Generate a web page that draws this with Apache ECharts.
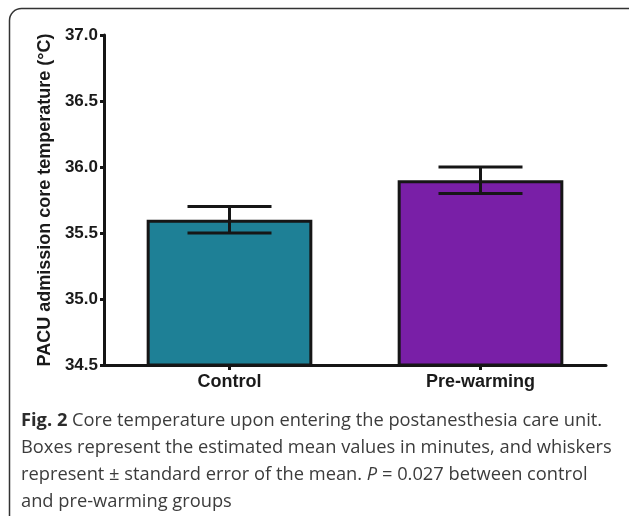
<!DOCTYPE html>
<html>
<head>
<meta charset="utf-8">
<script src="https://cdn.jsdelivr.net/npm/echarts@6/dist/echarts.min.js"></script>
<style>
  html, body { margin: 0; padding: 0; background: #fff; }
  #chart { width: 629px; height: 516px; }
</style>
</head>
<body>
<div id="chart"></div>
<script>
// data
const categories = ['Control', 'Pre-warming']
const meanTemp = [35.6, 35.9]
const semTemp = [0.1, 0.1]
const barColors = ['#1e8096', '#791fa7']
const yTicks = [34.5, 35.0, 35.5, 36.0, 36.5, 37.0]

const chart = echarts.init(document.getElementById('chart'))

const capHalf = 42
const ink = '#161616'

chart.setOption({
  animation: false,
  grid: { left: 104, right: 23, top: 35, bottom: 151 },
  xAxis: {
    type: 'category',
    data: categories,
    axisLine: { lineStyle: { color: ink, width: 3 } },
    axisTick: { show: true, alignWithLabel: true, length: 5, lineStyle: { color: ink, width: 3 } },
    axisLabel: { color: '#1a1a1a', fontFamily: 'Liberation Sans, Arial', fontWeight: 'bold', fontSize: 18, margin: 8 }
  },
  yAxis: {
    type: 'value',
    min: yTicks[0],
    max: yTicks[yTicks.length - 1],
    interval: 0.5,
    name: 'PACU admission core temperature (\u00b0C)',
    nameLocation: 'middle',
    nameGap: 47,
    nameTextStyle: { color: '#1a1a1a', fontFamily: 'Liberation Sans, Arial', fontWeight: 'bold', fontSize: 18 },
    splitLine: { show: false },
    axisLine: { show: true, lineStyle: { color: ink, width: 3 } },
    axisTick: { show: true, length: 4, lineStyle: { color: ink, width: 3 } },
    axisLabel: {
      color: '#1a1a1a',
      fontFamily: 'Liberation Sans, Arial',
      fontWeight: 'bold',
      fontSize: 17,
      margin: 6,
      formatter: v => v.toFixed(1)
    }
  },
  series: [
    {
      type: 'bar',
      barWidth: '66%',
      data: meanTemp.map((v, i) => ({
        value: v,
        itemStyle: { color: barColors[i], borderColor: ink, borderWidth: 3 }
      }))
    },
    {
      type: 'custom',
      z: 10,
      data: meanTemp.map((v, i) => [i, v - semTemp[i], v + semTemp[i]]),
      renderItem: (params, api) => {
        const lo = api.coord([api.value(0), api.value(1)])
        const hi = api.coord([api.value(0), api.value(2)])
        const style = { stroke: ink, lineWidth: 3 }
        return {
          type: 'group',
          children: [
            { type: 'line', shape: { x1: hi[0], y1: hi[1], x2: lo[0], y2: lo[1] }, style },
            { type: 'line', shape: { x1: hi[0] - capHalf, y1: hi[1], x2: hi[0] + capHalf, y2: hi[1] }, style },
            { type: 'line', shape: { x1: lo[0] - capHalf, y1: lo[1], x2: lo[0] + capHalf, y2: lo[1] }, style }
          ]
        }
      }
    }
  ],
  graphic: [
    {
      type: 'rect',
      shape: { x: 9.5, y: 8.5, width: 630, height: 530, r: 12 },
      style: { fill: 'none', stroke: '#333', lineWidth: 1.5 }
    },
    {
      type: 'group',
      left: 21,
      top: 412,
      children: [
        {
          type: 'text',
          x: 0, y: 0,
          style: {
            text: '{b|Fig. 2} Core temperature upon entering the postanesthesia care unit.',
            font: '18.3px "Open Sans"',
            fill: '#3c3c3c',
            rich: { b: { fontWeight: 'bold', fontFamily: 'Open Sans', fontSize: 18.3, fill: '#2c2c2c' } }
          }
        },
        {
          type: 'text',
          x: 0, y: 27,
          style: { text: 'Boxes represent the estimated mean values in minutes, and whiskers', font: '18.3px "Open Sans"', fill: '#3c3c3c' }
        },
        {
          type: 'text',
          x: 0, y: 54,
          style: {
            text: 'represent \u00b1 standard error of the mean. {i|P} = 0.027 between control',
            font: '18.3px "Open Sans"',
            fill: '#3c3c3c',
            rich: { i: { fontStyle: 'italic', fontFamily: 'Open Sans', fontSize: 18.3, fill: '#3c3c3c' } }
          }
        },
        {
          type: 'text',
          x: 0, y: 81,
          style: { text: 'and pre-warming groups', font: '18.3px "Open Sans"', fill: '#3c3c3c' }
        }
      ]
    }
  ]
})
</script>
</body>
</html>
